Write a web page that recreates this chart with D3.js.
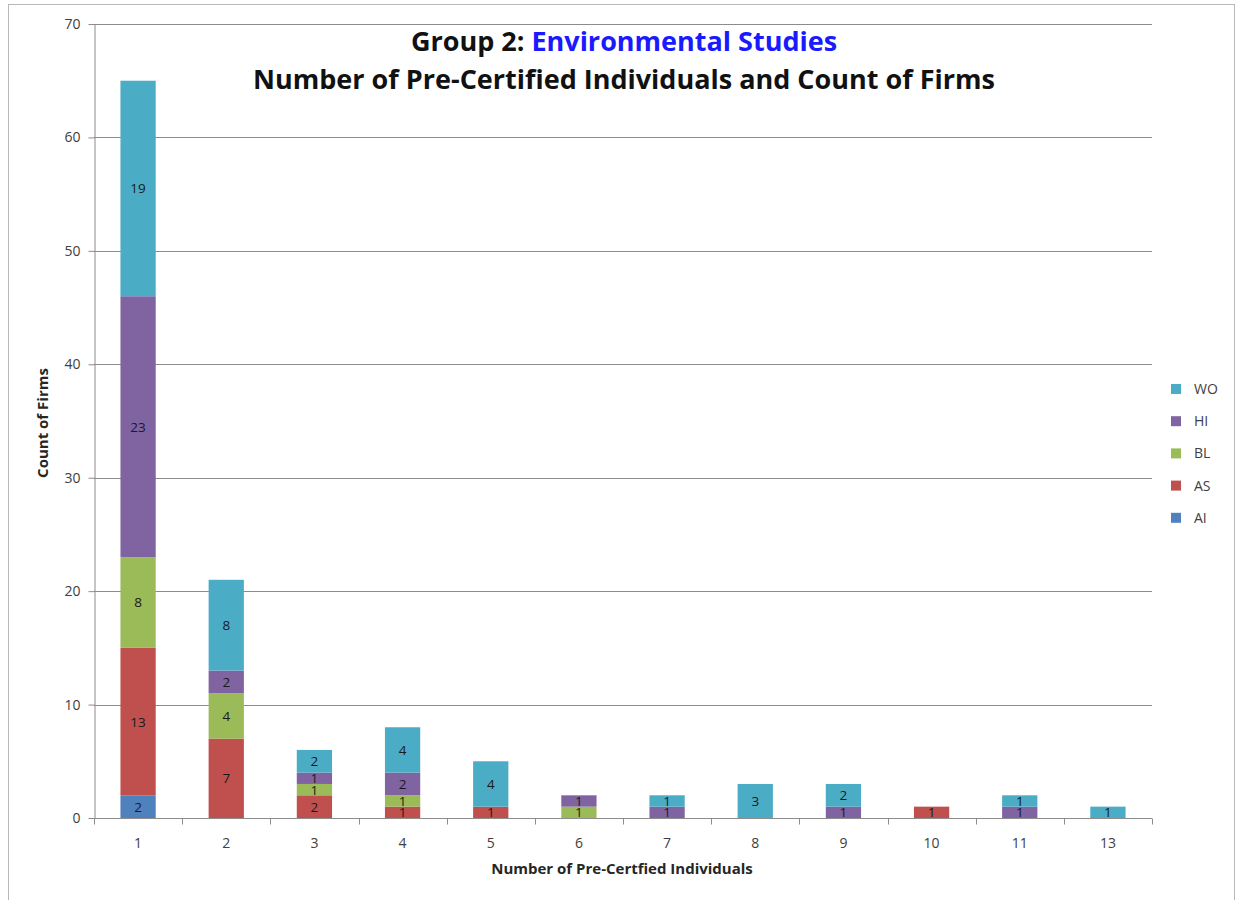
<!DOCTYPE html>
<html>
<head>
<meta charset="utf-8">
<script src="https://cdn.jsdelivr.net/npm/d3@7"></script>
<style>
  html, body { margin: 0; padding: 0; background: #fff; }
  svg { display: block; }
</style>
</head>
<body>
<svg id="chart" width="1238" height="900"></svg>
<script>
// Categories along the x axis: number of pre-certified individuals
const categories = ["1", "2", "3", "4", "5", "6", "7", "8", "9", "10", "11", "13"];

// Stacking order, bottom to top
const seriesNames = ["AI", "AS", "BL", "HI", "WO"];

// Count of firms per group, one value per category
const AI = [2, 0, 0, 0, 0, 0, 0, 0, 0, 0, 0, 0];
const AS = [13, 7, 2, 1, 1, 0, 0, 0, 0, 1, 0, 0];
const BL = [8, 4, 1, 1, 0, 1, 0, 0, 0, 0, 0, 0];
const HI = [23, 2, 1, 2, 0, 1, 1, 0, 1, 0, 1, 0];
const WO = [19, 8, 2, 4, 4, 0, 1, 3, 2, 0, 1, 1];

const yTicks = [0, 10, 20, 30, 40, 50, 60, 70];

const colors = {
  AI: "#4f81bd",
  AS: "#c0504d",
  BL: "#9bbb59",
  HI: "#8064a2",
  WO: "#4bacc6"
};

const seriesValues = { AI, AS, BL, HI, WO };
const rows = categories.map((c, i) => {
  const r = { cat: c };
  seriesNames.forEach(s => { r[s] = seriesValues[s][i]; });
  return r;
});

const svg = d3.select("#chart");
const font = "'Open Sans', 'Liberation Sans', sans-serif";

// Outer chart frame
svg.append("rect")
  .attr("x", 8.5).attr("y", 4.5)
  .attr("width", 1226).attr("height", 905)
  .attr("fill", "#fff")
  .attr("stroke", "#b8b8b8");

const plot = { left: 94, right: 1152, top: 24, bottom: 818 };

const x = d3.scaleBand()
  .domain(categories)
  .range([plot.left, plot.right])
  .paddingInner(0.6)
  .paddingOuter(0.3);

const y = d3.scaleLinear()
  .domain([0, 70])
  .range([plot.bottom, plot.top]);

// Horizontal gridlines
svg.append("g")
  .selectAll("line")
  .data(yTicks.filter(t => t > 0))
  .join("line")
  .attr("x1", plot.left).attr("x2", plot.right)
  .attr("y1", d => Math.round(y(d)) + 0.5)
  .attr("y2", d => Math.round(y(d)) + 0.5)
  .attr("stroke", "#8c8c8c")
  .attr("stroke-width", 1);

// Y axis
const yAxis = svg.append("g")
  .attr("transform", `translate(${plot.left + 0.5},0)`)
  .call(d3.axisLeft(y).tickValues(yTicks).tickSize(6).tickPadding(8).tickSizeOuter(0));
yAxis.select(".domain").attr("stroke", "#8c8c8c");
yAxis.selectAll(".tick line").attr("stroke", "#8c8c8c");
yAxis.selectAll(".tick text")
  .attr("font-family", font)
  .attr("font-size", 14)
  .attr("fill", "#404040");

// X axis with ticks at category boundaries
const xAxisG = svg.append("g")
  .attr("transform", `translate(0,${Math.round(y(0)) + 0.5})`);
xAxisG.append("line")
  .attr("x1", plot.left).attr("x2", plot.right)
  .attr("stroke", "#8c8c8c");
const boundaries = d3.range(categories.length + 1).map(i => plot.left + i * (plot.right - plot.left) / categories.length);
xAxisG.selectAll("line.tk")
  .data(boundaries)
  .join("line")
  .attr("class", "tk")
  .attr("x1", d => Math.round(d) + 0.5).attr("x2", d => Math.round(d) + 0.5)
  .attr("y1", 0).attr("y2", 6)
  .attr("stroke", "#8c8c8c");
xAxisG.selectAll("text")
  .data(categories)
  .join("text")
  .attr("x", d => x(d) + x.bandwidth() / 2)
  .attr("y", 29)
  .attr("text-anchor", "middle")
  .attr("font-family", font)
  .attr("font-size", 14)
  .attr("fill", "#404040")
  .text(d => d);

// Stacked bars
const stacked = d3.stack().keys(seriesNames)(rows);

const layers = svg.append("g")
  .selectAll("g")
  .data(stacked)
  .join("g")
  .attr("fill", d => colors[d.key]);

layers.selectAll("rect")
  .data(d => d.filter(s => s[1] - s[0] > 0))
  .join("rect")
  .attr("x", d => x(d.data.cat))
  .attr("width", x.bandwidth())
  .attr("y", d => y(d[1]))
  .attr("height", d => y(d[0]) - y(d[1]));

// Value labels centred in each segment
const labels = svg.append("g");
stacked.forEach(layer => {
  layer.filter(s => s[1] - s[0] > 0).forEach(s => {
    labels.append("text")
      .attr("x", x(s.data.cat) + x.bandwidth() / 2)
      .attr("y", (y(s[0]) + y(s[1])) / 2 + 5)
      .attr("text-anchor", "middle")
      .attr("font-family", font)
      .attr("font-size", 13.5)
      .attr("fill", "#1a1a1a")
      .text(s[1] - s[0]);
  });
});

// Axis titles
svg.append("text")
  .attr("x", (plot.left + plot.right) / 2 - 1)
  .attr("y", 874)
  .attr("text-anchor", "middle")
  .attr("font-family", font)
  .attr("font-weight", "bold")
  .attr("font-size", 15)
  .attr("fill", "#262626")
  .text("Number of Pre-Certfied Individuals");

svg.append("text")
  .attr("transform", `translate(48,423) rotate(-90)`)
  .attr("text-anchor", "middle")
  .attr("font-family", font)
  .attr("font-weight", "bold")
  .attr("font-size", 15)
  .attr("fill", "#262626")
  .text("Count of Firms");

// Chart title
const title = svg.append("text")
  .attr("x", 624)
  .attr("y", 51)
  .attr("text-anchor", "middle")
  .attr("font-family", font)
  .attr("font-weight", "bold")
  .attr("font-size", 27)
  .attr("fill", "#111");
title.append("tspan").text("Group 2: ");
title.append("tspan").attr("fill", "#1a1aff").text("Environmental Studies");

svg.append("text")
  .attr("x", 624)
  .attr("y", 89)
  .attr("text-anchor", "middle")
  .attr("font-family", font)
  .attr("font-weight", "bold")
  .attr("font-size", 27)
  .attr("fill", "#111")
  .text("Number of Pre-Certified Individuals and Count of Firms");

// Legend, top entry is the top of the stack
const legendItems = seriesNames.slice().reverse();
const legend = svg.append("g")
  .selectAll("g")
  .data(legendItems)
  .join("g")
  .attr("transform", (d, i) => `translate(1171,${389 + i * 32.2})`);
legend.append("rect")
  .attr("x", 0).attr("y", -5)
  .attr("width", 10).attr("height", 10)
  .attr("fill", d => colors[d]);
legend.append("text")
  .attr("x", 23).attr("y", 5)
  .attr("font-family", font)
  .attr("font-size", 14)
  .attr("fill", "#404040")
  .text(d => d);
</script>
</body>
</html>
